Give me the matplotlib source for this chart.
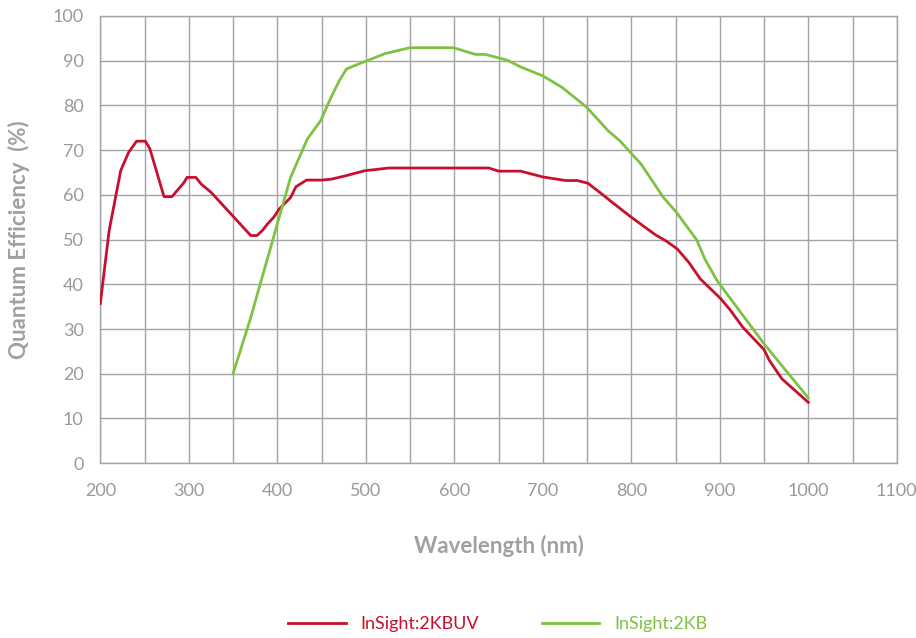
import matplotlib
matplotlib.use('Agg')
import matplotlib.pyplot as plt

################ data ################
wl_buv = [200, 210, 223, 232, 241, 251, 256, 272, 281, 287, 294, 298, 308, 314, 325,
          370, 377, 383, 389, 396, 402, 415, 421, 433, 450, 461, 476, 499,
          526, 639, 650, 675, 700, 726, 739, 751, 768, 776, 800, 827, 840,
          852, 865, 878, 901, 912, 926, 950, 956, 970, 1000]
qe_buv = [35.7, 52.0, 65.4, 69.5, 72.0, 72.0, 70.3, 59.6, 59.6, 61.0, 62.6, 63.9, 63.9, 62.4, 60.6,
          50.9, 50.9, 52.0, 53.5, 55.0, 56.8, 59.4, 61.8, 63.3, 63.3, 63.5, 64.2, 65.4,
          66.0, 66.0, 65.3, 65.3, 64.0, 63.2, 63.2, 62.6, 60.0, 58.7, 55.0, 51.1, 49.6,
          47.9, 44.9, 41.2, 36.8, 34.2, 30.4, 25.4, 23.0, 18.9, 13.6]

wl_kb = [350, 369, 415, 434, 449, 461, 470, 478, 486, 499, 522, 537, 550, 599,
         624, 635, 660, 675, 700, 722, 749, 774, 787, 811, 836, 851, 874,
         883, 897, 950, 1000]
qe_kb = [20.0, 31.9, 63.9, 72.5, 76.6, 81.9, 85.5, 88.1, 88.8, 89.8, 91.6, 92.3, 92.9, 92.9,
         91.4, 91.4, 90.1, 88.6, 86.6, 84.0, 79.7, 74.3, 72.1, 66.9, 59.5, 56.1, 49.9,
         45.7, 40.8, 26.7, 14.6]

labels = ['InSight:2KBUV', 'InSight:2KB']
x_ticks = list(range(200, 1101, 100))
y_ticks = list(range(0, 101, 10))

red = '#c8102e'
green = '#7dc242'
grey = '#a3a3a3'

################ plot ################
plt.rcParams['font.family'] = ['Lato', 'DejaVu Sans']
fig = plt.figure(figsize=(9.16, 6.38), dpi=100)
ax = fig.add_axes([0.1095, 0.274, 0.8695, 0.701])

ax.plot(wl_buv, qe_buv, color=red, lw=2.0, label=labels[0], zorder=3)
ax.plot(wl_kb, qe_kb, color=green, lw=2.0, label=labels[1], zorder=3)

ax.set_xlim(200, 1100)
ax.set_ylim(0, 100)
ax.set_xticks(x_ticks)
ax.set_yticks(y_ticks)
ax.set_xticks(range(250, 1100, 100), minor=True)
ax.grid(True, which='major', axis='both', color=grey, lw=1.0)
ax.grid(True, which='minor', axis='x', color=grey, lw=1.0)
ax.set_axisbelow(True)
for s in ax.spines.values():
    s.set_color(grey)
    s.set_linewidth(1.0)

ax.tick_params(which='both', length=0, labelsize=13, labelcolor='#9a9a9a', pad=12)
ax.tick_params(axis='x', pad=14)

ax.set_xlabel('Wavelength (nm)', fontsize=16, fontweight='bold', color='#a0a0a0', labelpad=26)
ax.set_ylabel('Quantum Efficiency  (%)', fontsize=16, fontweight='bold', color='#a0a0a0', labelpad=16)

leg = fig.legend(loc='center', bbox_to_anchor=(0.543, 0.022), ncol=2, frameon=False,
                 fontsize=13, handlelength=3.2, handletextpad=0.8, columnspacing=3.5)
for txt, c in zip(leg.get_texts(), [red, green]):
    txt.set_color(c)

fig.savefig('out.png', dpi=100)
